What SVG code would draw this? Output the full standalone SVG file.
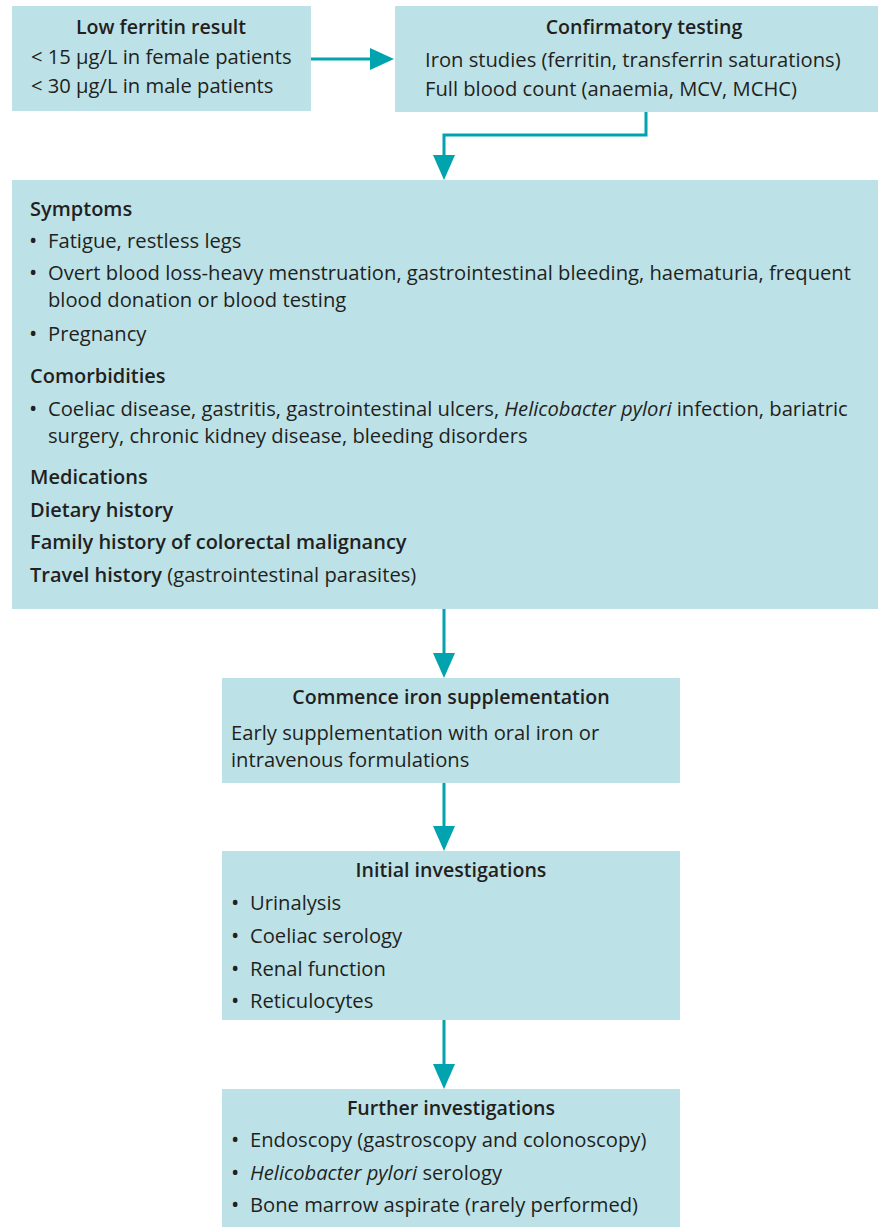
<svg xmlns="http://www.w3.org/2000/svg" width="878" height="1227" viewBox="0 0 878 1227">
<style>
.box{fill:#bce2e8}
text{font-family:"Open Sans","Liberation Sans",sans-serif;font-size:20.2px;fill:#231f20}
.t{font-weight:600;font-size:19.6px;text-anchor:middle}
.h{font-weight:600;font-size:20px}
.b{font-size:22px}
.c{stroke:#00a3ae;stroke-width:3;fill:none}
.ah{fill:#00a3ae}
</style>
<rect width="878" height="1227" fill="#fff"/>
<g id="n1">
<rect class="box" x="12" y="6" width="299" height="105"/>
<text class="t" x="161" y="34">Low ferritin result</text>
<text x="31" y="64">&lt; 15 μg/L in female patients</text>
<text x="31" y="93">&lt; 30 μg/L in male patients</text>
</g>
<g id="n2">
<rect class="box" x="395" y="6" width="483" height="106"/>
<text class="t" x="644" y="34">Confirmatory testing</text>
<text x="425" y="67">Iron studies (ferritin, transferrin saturations)</text>
<text x="425" y="96">Full blood count (anaemia, MCV, MCHC)</text>
</g>
<g id="n3">
<rect class="box" x="12" y="180" width="866" height="429"/>
<text class="h" x="30" y="216">Symptoms</text>
<text class="b" x="29" y="248">•</text><text x="48" y="248">Fatigue, restless legs</text>
<text class="b" x="29" y="280">•</text><text x="48" y="280">Overt blood loss-heavy menstruation, gastrointestinal bleeding, haematuria, frequent</text>
<text x="48" y="307">blood donation or blood testing</text>
<text class="b" x="29" y="341">•</text><text x="48" y="341">Pregnancy</text>
<text class="h" x="30" y="383">Comorbidities</text>
<text class="b" x="29" y="416">•</text><text x="48" y="416">Coeliac disease, gastritis, gastrointestinal ulcers, <tspan font-style="italic">Helicobacter pylori</tspan> infection, bariatric</text>
<text x="48" y="443">surgery, chronic kidney disease, bleeding disorders</text>
<text class="h" x="30" y="484">Medications</text>
<text class="h" x="30" y="517">Dietary history</text>
<text class="h" x="30" y="549">Family history of colorectal malignancy</text>
<text x="30" y="582"><tspan font-weight="600" font-size="20px">Travel history</tspan> (gastrointestinal parasites)</text>
</g>
<g id="n4">
<rect class="box" x="222" y="678" width="458" height="105"/>
<text class="t" x="451" y="704">Commence iron supplementation</text>
<text x="231" y="740">Early supplementation with oral iron or</text>
<text x="231" y="767">intravenous formulations</text>
</g>
<g id="n5">
<rect class="box" x="222" y="851" width="458" height="169"/>
<text class="t" x="451" y="877">Initial investigations</text>
<text class="b" x="231" y="910">•</text><text x="250" y="910">Urinalysis</text>
<text class="b" x="231" y="943">•</text><text x="250" y="943">Coeliac serology</text>
<text class="b" x="231" y="976">•</text><text x="250" y="976">Renal function</text>
<text class="b" x="231" y="1008">•</text><text x="250" y="1008">Reticulocytes</text>
</g>
<g id="n6">
<rect class="box" x="222" y="1089" width="458" height="138"/>
<text class="t" x="451" y="1115">Further investigations</text>
<text class="b" x="231" y="1147">•</text><text x="250" y="1147">Endoscopy (gastroscopy and colonoscopy)</text>
<text class="b" x="231" y="1180">•</text><text x="250" y="1180"><tspan font-style="italic">Helicobacter pylori</tspan> serology</text>
<text class="b" x="231" y="1212">•</text><text x="250" y="1212">Bone marrow aspirate (rarely performed)</text>
</g>
<g id="connectors">
<path class="c" d="M311,59 H374"/>
<path class="ah" d="M370,48 L394,59 L370,70 z"/>
<path class="c" d="M646,112 V135 H444 V158"/>
<path class="ah" d="M433,155 L444,180 L455,155 z"/>
<path class="c" d="M444,609 V656"/>
<path class="ah" d="M433,653 L444,678 L455,653 z"/>
<path class="c" d="M444,783 V829"/>
<path class="ah" d="M433,826 L444,851 L455,826 z"/>
<path class="c" d="M444,1020 V1067"/>
<path class="ah" d="M433,1064 L444,1089 L455,1064 z"/>
</g>
</svg>
